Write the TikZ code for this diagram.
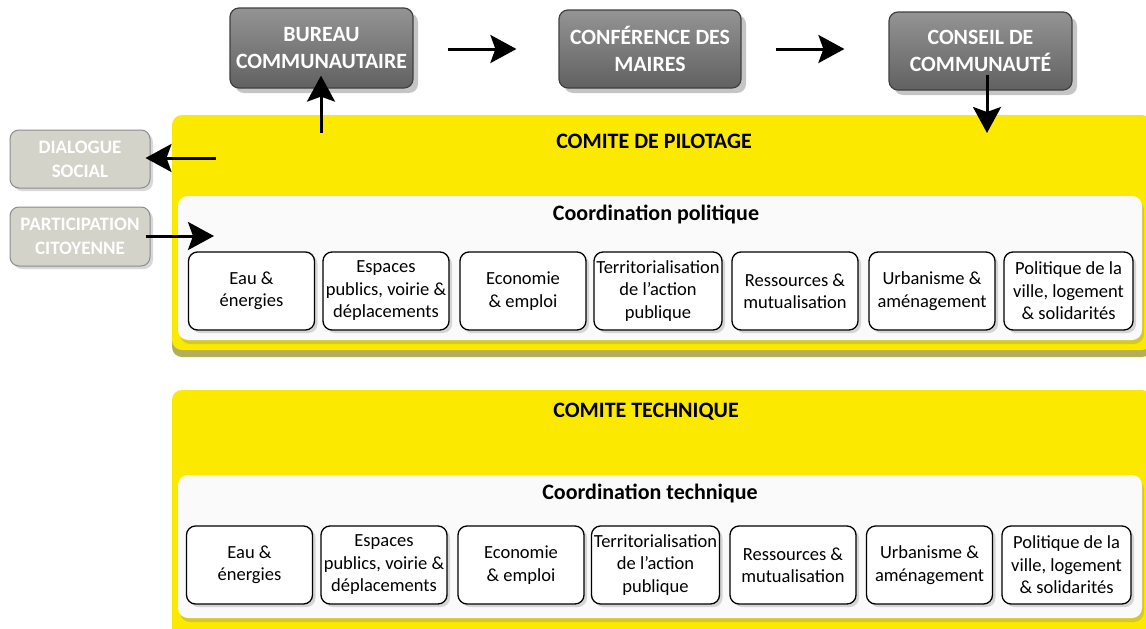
\documentclass[tikz,border=0pt]{standalone}
\usepackage{fontspec}
\setmainfont{Carlito}
\usetikzlibrary{shadows,arrows.meta}
\definecolor{yel}{HTML}{FCE900}
\definecolor{yelsh}{HTML}{8C8400}
\definecolor{side}{HTML}{D3D3CA}
\begin{document}
\begin{tikzpicture}[x=1pt,y=-1pt,
 topbox/.style={draw=black!75, line width=1.2pt, rounded corners=9pt, top color=black!42, bottom color=black!62, text=white, font=\bfseries\fontsize{21.8}{26.5}\selectfont, align=center, inner sep=0pt, drop shadow={shadow xshift=5pt, shadow yshift=-5pt, opacity=0.45}},
 sidebox/.style={draw=black!45, line width=1pt, rounded corners=9pt, fill=side, text=white, font=\bfseries\fontsize{19}{24}\selectfont, align=center, inner sep=0pt, drop shadow={shadow xshift=3pt, shadow yshift=-3pt, opacity=0.3}},
 panel/.style={fill=yel, rounded corners=10pt, inner sep=0pt, drop shadow={shadow xshift=0pt, shadow yshift=-7pt, fill=yelsh, opacity=0.65}},
 innerbox/.style={fill=black!2, rounded corners=10pt, inner sep=0pt, drop shadow={shadow xshift=2pt, shadow yshift=-4pt, opacity=0.3}},
 unit/.style={draw=black, line width=1.3pt, fill=white, rounded corners=9pt, minimum width=126pt, minimum height=78pt, inner sep=1pt, align=center, font=\fontsize{18.5}{22.5}\selectfont, drop shadow={shadow xshift=3pt, shadow yshift=-3pt, opacity=0.3}},
 ttl/.style={font=\bfseries\fontsize{22}{26}\selectfont},
 arr/.style={line width=3pt, -{Stealth[length=26pt,width=28pt,inset=5pt]}}
]
\useasboundingbox (0,0) rectangle (1146,629);
\clip (0,0) rectangle (1146,629);
\fill[white] (0,0) rectangle (1146,629);

% panels
\node[panel, minimum width=980pt, minimum height=235pt] (pil) at (662,232.5) {};
\node[ttl] (tpil) at (654,141) {COMITE DE PILOTAGE};
\node[innerbox, minimum width=964pt, minimum height=144pt] (w1) at (660,268) {};
\node[ttl] (cpol) at (656,214) {Coordination politique};

\node[panel, minimum width=980pt, minimum height=250pt] (tec) at (662,515) {};
\node[ttl] (ttec) at (646,412) {COMITE TECHNIQUE};
\node[innerbox, minimum width=964pt, minimum height=143pt] (w2) at (660,546.5) {};
\node[ttl] (ctec) at (650,493) {Coordination technique};

% units row 1
\node[unit] (a1) at (251.5,291) {Eau \&\\énergies};
\node[unit] (a2) at (386,291) {Espaces\\publics, voirie \&\\déplacements};
\node[unit] (a3) at (523,291) {Economie\\\& emploi};
\node[unit, minimum width=128pt] (a4) at (658,291) {Territorialisation\\de l’action\\publique};
\node[unit] (a5) at (795,291) {Ressources \&\\mutualisation};
\node[unit] (a6) at (932,291) {Urbanisme \&\\aménagement};
\node[unit, minimum width=129pt] (a7) at (1068.5,291) {Politique de la\\ville, logement\\\& solidarités};

% units row 2
\node[unit] (b1) at (249.5,565) {Eau \&\\énergies};
\node[unit] (b2) at (384,565) {Espaces\\publics, voirie \&\\déplacements};
\node[unit] (b3) at (521,565) {Economie\\\& emploi};
\node[unit, minimum width=128pt] (b4) at (655.5,565) {Territorialisation\\de l’action\\publique};
\node[unit] (b5) at (793,565) {Ressources \&\\mutualisation};
\node[unit] (b6) at (929.5,565) {Urbanisme \&\\aménagement};
\node[unit, minimum width=129pt] (b7) at (1066.5,565) {Politique de la\\ville, logement\\\& solidarités};

% top boxes
\node[topbox, minimum width=183pt, minimum height=80pt] (bur) at (321.5,48) {BUREAU\\COMMUNAUTAIRE};
\node[topbox, minimum width=182pt, minimum height=78pt] (conf) at (650,49) {CONFÉRENCE DES\\MAIRES};
\node[topbox, minimum width=183pt, minimum height=78pt] (cons) at (980.5,51) {CONSEIL DE\\COMMUNAUTÉ};

% side boxes
\node[sidebox, minimum width=140pt, minimum height=58pt] (dia) at (80,159) {DIALOGUE\\SOCIAL};
\node[sidebox, minimum width=140pt, minimum height=59pt] (par) at (80,236.5) {PARTICIPATION\\CITOYENNE};

% connectors
\coordinate (c1) at (321,133);
\coordinate (c2) at (987,133);
\coordinate (c3) at (216,158);
\coordinate (c4) at (214,236);
\draw[arr, shorten <=34pt, shorten >=42pt] (bur.east |- 0,49) -- (conf.west |- 0,49);
\draw[arr, shorten <=34pt, shorten >=44pt] (conf.east |- 0,49) -- (cons.west |- 0,49);
\draw[arr, shorten >=-13pt] (c1) -- (bur.south -| c1);
\draw[arr, shorten <=-16pt] (cons.south -| c2) -- (c2);
\draw[arr, shorten >=-5pt] (c3) -- (dia.east |- c3);
\draw[arr, shorten <=-5pt] (par.east |- c4) -- (c4);
\end{tikzpicture}
\end{document}
